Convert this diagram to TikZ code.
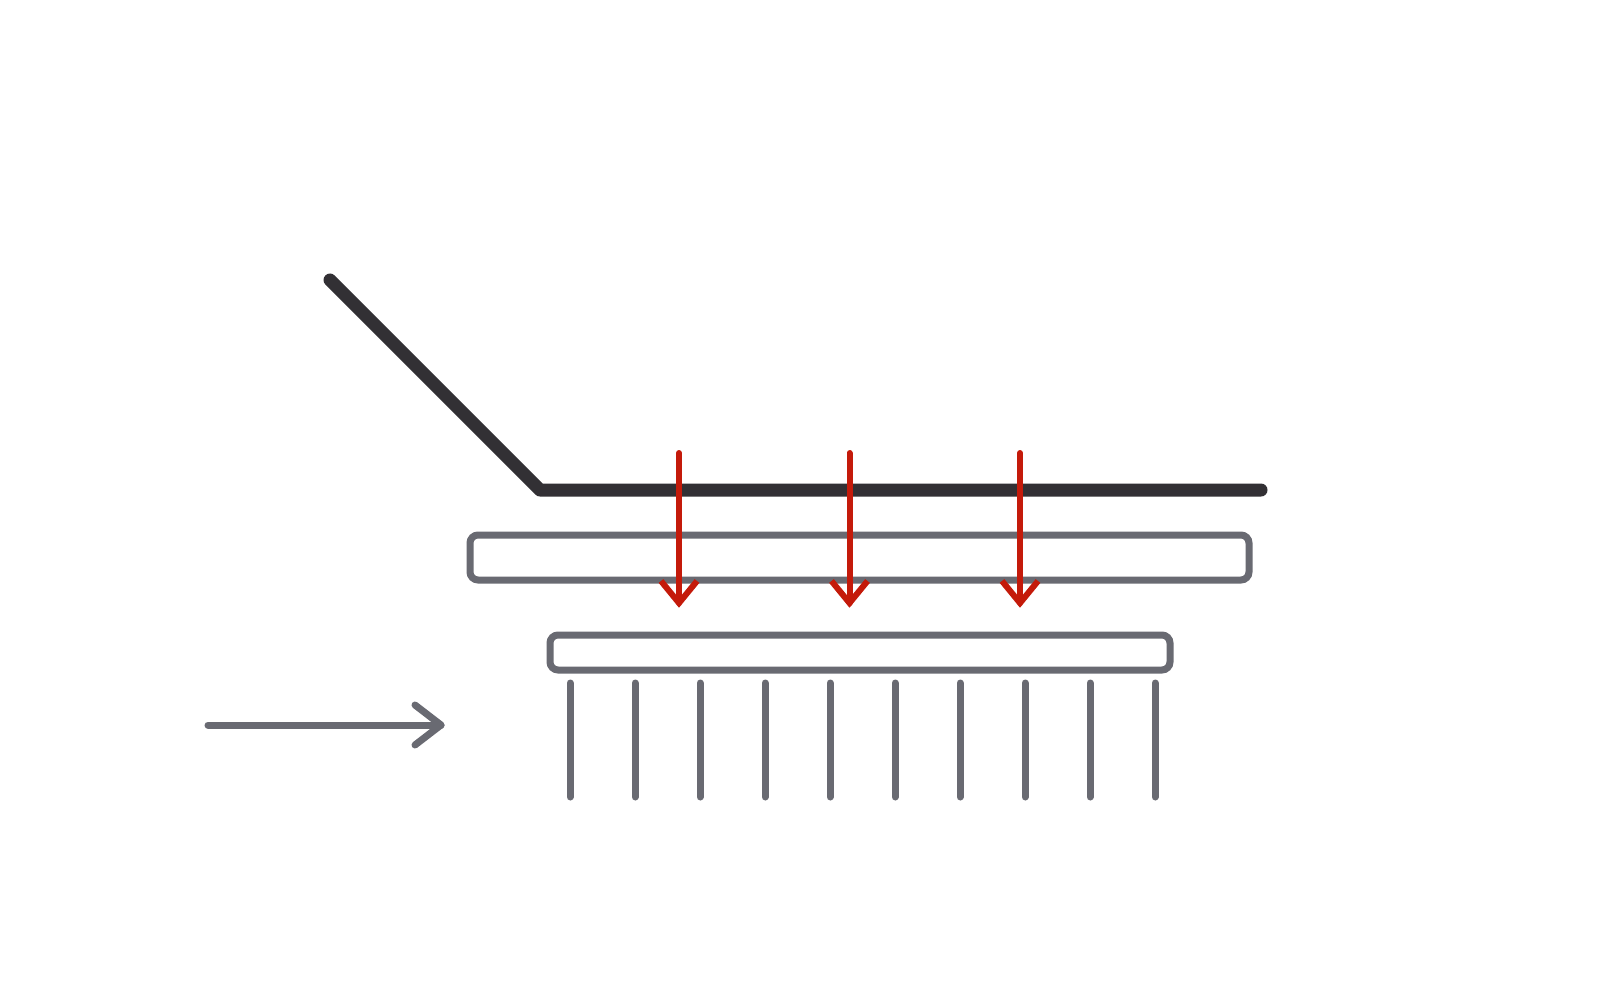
\documentclass[tikz,border=0pt]{standalone}
\usetikzlibrary{calc}
\definecolor{ink}{HTML}{323034}
\definecolor{steel}{HTML}{696A72}
\definecolor{signal}{HTML}{C41A0A}
\tikzset{
  plate/.style={draw=steel, line width=7pt, rounded corners=8pt, fill=none, inner sep=0pt, outer sep=0pt},
  beam/.style={draw=ink, line width=13pt, line cap=round, line join=round},
  shaft/.style={draw=signal, line width=6pt, line cap=round},
  vhead/.style={draw=signal, line width=6pt, line cap=butt, line join=miter},
  pin/.style={draw=steel, line width=7pt, line cap=round},
  flow/.style={draw=steel, line width=7pt, line cap=round, line join=round},
}
\begin{document}
\begin{tikzpicture}[x=1pt, y=-1pt]
\fill[white] (0,0) rectangle (1600,1000);
\useasboundingbox (0,0) rectangle (1600,1000);
% beam
\coordinate (bA) at (330,280);
\coordinate (bB) at (540,490);
\coordinate (bC) at (1261,490);
\draw[beam] (bA) -- (bB) -- (bC);
% plates
\node[plate, minimum width=779pt, minimum height=45pt] (upper) at (859.5,557.5) {};
\node[plate, minimum width=620pt, minimum height=35pt] (lower) at (860,652.5) {};
% pins
\foreach \i in {0,...,9} {
  \coordinate (pt\i) at (570+65*\i,683);
  \coordinate (pb\i) at (570+65*\i,797);
  \draw[pin] (pt\i) -- (pb\i);
}
% flow arrow
\coordinate (fs) at (208,725);
\coordinate (fe) at (441,725);
\draw[flow] (fs) -- (fe);
\draw[flow] ($(fe)+(-26,-20)$) -- (fe) -- ($(fe)+(-26,20)$);
% red arrows
\foreach \x [count=\k] in {679,849.5,1020} {
  \coordinate (rs\k) at (\x,453);
  \coordinate (re\k) at (\x,603);
  \draw[shaft] (rs\k) -- (re\k);
  \draw[vhead] ($(re\k)+(-18,-22)$) -- (re\k) -- ($(re\k)+(18,-22)$);
}
\end{tikzpicture}
\end{document}
